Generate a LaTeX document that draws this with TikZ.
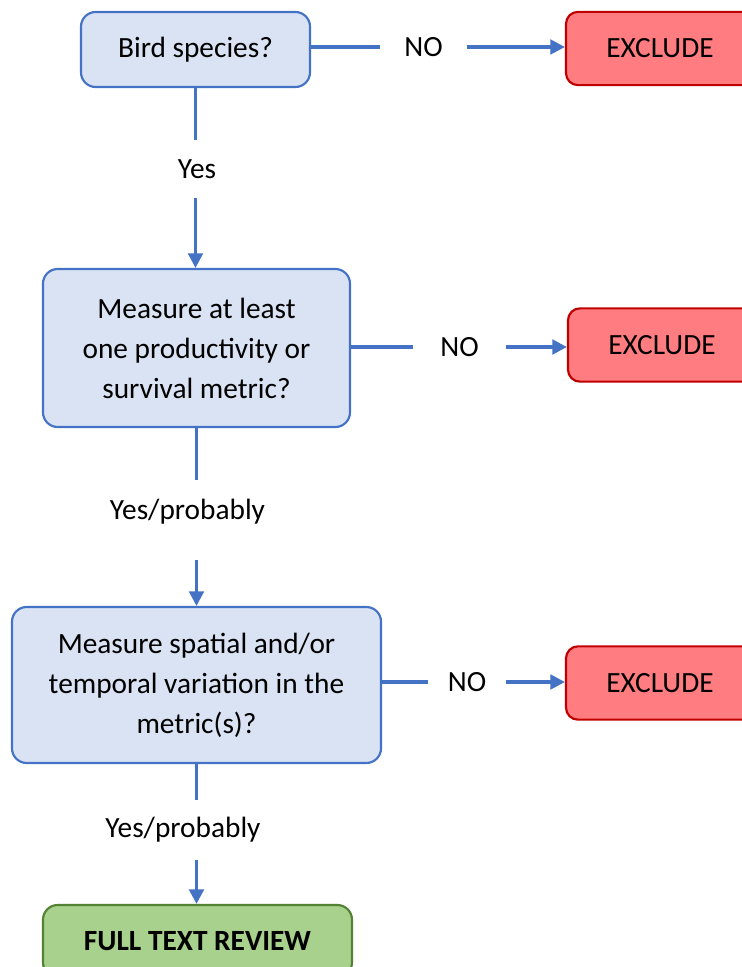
\documentclass[tikz,border=0pt]{standalone}
\usepackage{fontspec}
\setmainfont{Carlito}
\usetikzlibrary{arrows.meta}
\definecolor{qfill}{HTML}{DAE3F3}
\definecolor{qline}{HTML}{4472C4}
\definecolor{xfill}{HTML}{FF7C80}
\definecolor{xline}{HTML}{C00000}
\definecolor{gfill}{HTML}{A9D18E}
\definecolor{gline}{HTML}{548235}
\tikzset{
  qbox/.style={draw=qline, fill=qfill, line width=1.6pt, rounded corners=11pt, align=center, inner sep=0pt, font=\fontsize{22}{30}\selectfont},
  xbox/.style={draw=xline, fill=xfill, line width=1.6pt, rounded corners=9pt, align=center, inner sep=0pt, font=\fontsize{22}{30}\selectfont, minimum width=141pt, minimum height=55pt},
  gbox/.style={draw=gline, fill=gfill, line width=1.6pt, rounded corners=11pt, align=center, inner sep=0pt, font=\fontsize{22}{30}\selectfont\bfseries},
  lab/.style={inner sep=0pt, font=\fontsize{22}{30}\selectfont},
  conn/.style={draw=qline, line width=2.4pt},
  arr/.style={conn, -{Triangle[width=11pt,length=11pt]}},
}
\begin{document}
\begin{tikzpicture}[x=0.75pt, y=-0.75pt]
\useasboundingbox (0,0) rectangle (742,967);
\clip (0,0) rectangle (742,967);
% question boxes
\node[qbox, minimum width=171.75pt, minimum height=56.25pt] (q1) at (195.5,49.5) {Bird species?};
\node[qbox, minimum width=230.25pt, minimum height=118.5pt] (q2) at (196.5,348) {Measure at least\\one productivity or\\survival metric?};
\node[qbox, minimum width=276.75pt, minimum height=117pt] (q3) at (196.5,685) {Measure spatial and/or\\temporal variation in the\\metric(s)?};
\node[gbox, minimum width=231.75pt, minimum height=54pt, text depth=0pt] (g) at (197.5,941) {FULL TEXT REVIEW};
% exclude boxes
\node[xbox] (x1) at (660,48.5) {EXCLUDE};
\node[xbox] (x2) at (662,345) {EXCLUDE};
\node[xbox] (x3) at (660,683) {EXCLUDE};
% labels
\node[lab, minimum width=65pt] (n1) at (423.5,47) {NO};
\node[lab, minimum width=70pt] (n2) at (459.5,347) {NO};
\node[lab, minimum width=58pt] (n3) at (467,682) {NO};
\node[lab, minimum height=43pt] (y1) at (197,169) {Yes};
\node[lab, minimum height=48pt] (y2) at (187.5,512) {Yes/probably};
\node[lab, minimum height=45pt] (y3) at (183,830) {Yes/probably};
% connectors
\draw[conn] (q1.east |- n1) -- (n1.west);
\draw[arr] (n1.east) -- (x1.west |- n1);
\draw[conn] (q2.east |- n2) -- (n2.west);
\draw[arr] (n2.east) -- (x2.west |- n2);
\draw[conn] (q3.east |- n3) -- (n3.west);
\draw[arr] (n3.east) -- (x3.west |- n3);
\draw[conn] (q1.south) -- (q1.south |- y1.north);
\draw[arr] (q1.south |- y1.south) -- (q2.north -| q1.south);
\draw[conn] (q2.south) -- (q2.south |- y2.north);
\draw[arr, shorten <=12pt] (q2.south |- y2.south) -- (q3.north -| q2.south);
\draw[conn] (q3.south) -- (q3.south |- y3.north);
\draw[arr] (q3.south |- y3.south) -- (g.north -| q3.south);
\end{tikzpicture}
\end{document}
